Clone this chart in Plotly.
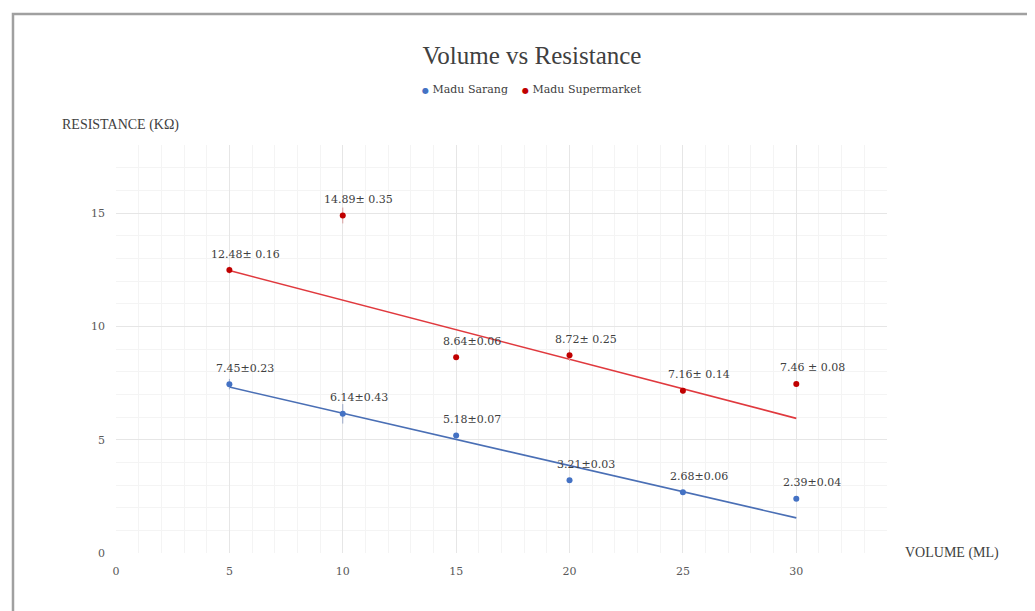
import plotly.graph_objects as go

volume = [5, 10, 15, 20, 25, 30]
sarang = [7.45, 6.14, 5.18, 3.21, 2.68, 2.39]
sarang_err = [0.23, 0.43, 0.07, 0.03, 0.06, 0.04]
sarang_labels = ["7.45±0.23", "6.14±0.43", "5.18±0.07", "3.21±0.03", "2.68±0.06", "2.39±0.04"]
supermarket = [12.48, 14.89, 8.64, 8.72, 7.16, 7.46]
supermarket_err = [0.16, 0.35, 0.06, 0.25, 0.14, 0.08]
supermarket_labels = ["12.48± 0.16", "14.89± 0.35", "8.64±0.06", "8.72± 0.25", "7.16± 0.14", "7.46 ± 0.08"]

trend_x = [5, 30]
sarang_trend = [7.32, 1.55]
supermarket_trend = [12.46, 5.94]

BLUE = "#4472C4"
RED = "#C00000"
SERIF = "Liberation Serif, Times New Roman, serif"
SERIF2 = "DejaVu Serif, serif"

fig = go.Figure()

fig.add_trace(go.Scatter(x=trend_x, y=sarang_trend, mode="lines",
                         line=dict(color="#4A6FB5", width=1.6), showlegend=False, hoverinfo="skip"))
fig.add_trace(go.Scatter(x=trend_x, y=supermarket_trend, mode="lines",
                         line=dict(color="#E0393E", width=1.6), showlegend=False, hoverinfo="skip"))

fig.add_trace(go.Scatter(x=volume, y=sarang, mode="markers", name="Madu Sarang",
                         marker=dict(color=BLUE, size=6), showlegend=False,
                         error_y=dict(type="data", array=sarang_err, color="#9AA8C8", thickness=1, width=0)))
fig.add_trace(go.Scatter(x=volume, y=supermarket, mode="markers", name="Madu Supermarket",
                         marker=dict(color=RED, size=6), showlegend=False,
                         error_y=dict(type="data", array=supermarket_err, color="#D8A0A0", thickness=1, width=0)))

annotations = []
for xs, ys, labels in [(volume, sarang, sarang_labels), (volume, supermarket, supermarket_labels)]:
    for xv, yv, lab in zip(xs, ys, labels):
        annotations.append(dict(x=xv, y=yv, xref="x", yref="y", text=lab, showarrow=False,
                                xshift=16, yshift=16, font=dict(family=SERIF2, size=11, color="#404040")))

legend_text = (f'<span style="color:{BLUE};font-size:8px">●</span> Madu Sarang'
               f'&nbsp;&nbsp;&nbsp;&nbsp;<span style="color:{RED};font-size:8px">●</span> Madu Supermarket')
annotations.append(dict(x=0.5396, y=1.137, xref="paper", yref="paper", text=legend_text,
                        showarrow=False, xanchor="center", yanchor="middle",
                        font=dict(family=SERIF2, size=11, color="#404040")))

annotations.append(dict(x=-0.0726, y=1.049, xref="paper", yref="paper", text="RESISTANCE (KΩ)",
                        showarrow=False, xanchor="left", yanchor="middle",
                        font=dict(family=SERIF, size=14, color="#404040")))
annotations.append(dict(x=1.0208, y=0.0, xref="paper", yref="paper", text="VOLUME (ML)",
                        showarrow=False, xanchor="left", yanchor="middle",
                        font=dict(family=SERIF, size=14, color="#404040")))

fig.update_layout(
    width=1027, height=603,
    margin=dict(l=108, r=148, t=137, b=58),
    paper_bgcolor="white", plot_bgcolor="white",
    showlegend=False,
    title=dict(text="Volume vs Resistance", x=0.5102, xanchor="center", y=0.922, yanchor="middle",
               font=dict(family=SERIF, size=25, color="#404040")),
    annotations=annotations,
    shapes=[dict(type="rect", xref="paper", yref="paper", x0=-0.1336, x1=1.25, y0=-0.2, y1=1.321,
                 line=dict(color="#A0A0A0", width=2.5), layer="below")],
)

fig.update_xaxes(range=[0, 34], tick0=0, dtick=5, showgrid=True, gridcolor="#E6E6E6", gridwidth=1,
                 minor=dict(dtick=1, showgrid=True, gridcolor="#F4F4F4"),
                 zeroline=False, showline=False, ticks="", ticklabelstandoff=10,
                 tickfont=dict(family=SERIF2, size=11, color="#595959"))
fig.update_yaxes(range=[0, 18], tick0=0, dtick=5, showgrid=True, gridcolor="#E6E6E6", gridwidth=1,
                 minor=dict(dtick=1, showgrid=True, gridcolor="#F4F4F4"),
                 zeroline=False, showline=False, ticks="", ticklabelstandoff=10,
                 tickfont=dict(family=SERIF2, size=11, color="#595959"))

fig.write_html("out.html")
